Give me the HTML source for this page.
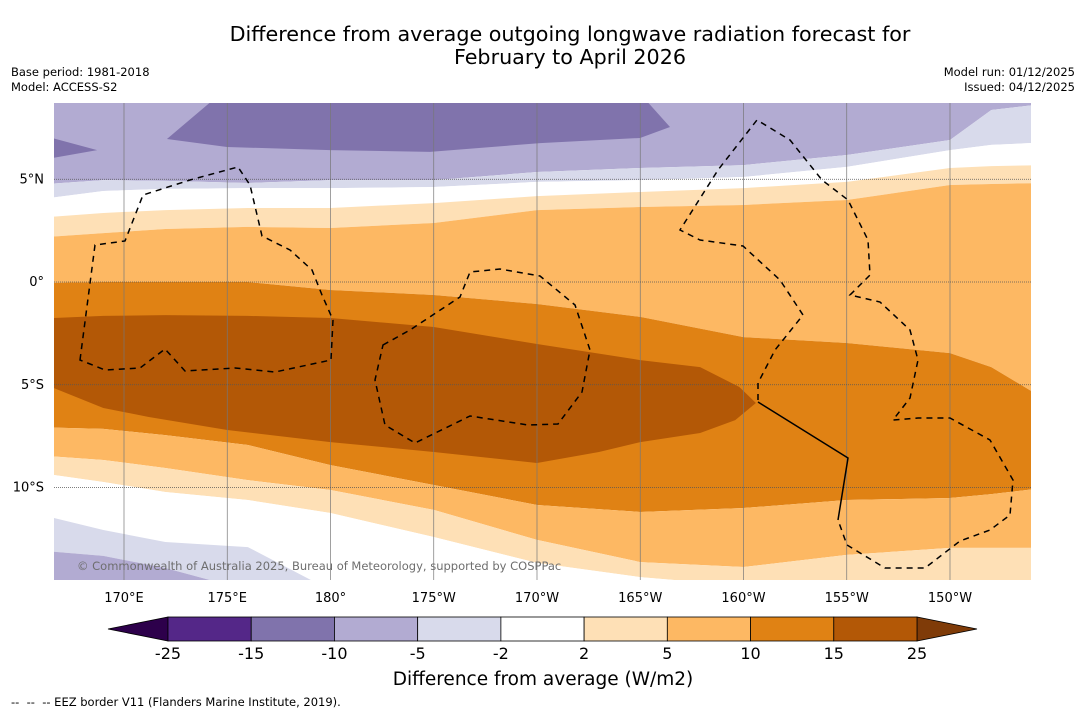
<!DOCTYPE html>
<html><head><meta charset="utf-8">
<style>
body{margin:0;background:#fff;width:1085px;height:713px;overflow:hidden;font-family:"DejaVu Sans","Liberation Sans",sans-serif;}
svg{position:absolute;left:0;top:0;font-family:"DejaVu Sans","Liberation Sans",sans-serif;}
</style></head>
<body>
<svg id="chart" width="1085" height="713" xmlns="http://www.w3.org/2000/svg">
<text x="570" y="41" font-size="20.7" text-anchor="middle" fill="#000">Difference from average outgoing longwave radiation forecast for</text>
<text x="570" y="64" font-size="20.7" text-anchor="middle" fill="#000">February to April 2026</text>
<text x="11" y="76" font-size="11.5">Base period: 1981-2018</text>
<text x="11" y="91" font-size="11.5">Model: ACCESS-S2</text>
<text x="1075" y="76" font-size="11.5" text-anchor="end">Model run: 01/12/2025</text>
<text x="1075" y="91" font-size="11.5" text-anchor="end">Issued: 04/12/2025</text>
<defs><clipPath id="mapclip"><rect x="54" y="103" width="977" height="477"/></clipPath></defs>
<g id="map" clip-path="url(#mapclip)"></g>
<g id="axes"></g>
<g id="cbar"></g>
<text x="543" y="685" font-size="18.5" text-anchor="middle">Difference from average (W/m2)</text>
<text x="11" y="706" font-size="11.5" xml:space="preserve">--  --  -- EEZ border V11 (Flanders Marine Institute, 2019).</text>
</svg>
<script>
// ---- data ----
const lons = [166.6,169,172,176,180,185,190,195,200,205,210,212,213.9];
const latTop = 8.75, latBot = -14.5;
const b2  = [4.72,4.96,4.92,4.82,4.96,4.96,5.35,5.55,5.69,6.18,6.91,8.37,8.71];
const b3  = [3.99,4.43,4.53,4.57,4.57,4.62,4.87,4.96,5.11,5.60,6.42,6.67,6.81];
const b4  = [3.11,3.36,3.50,3.60,3.60,3.84,4.18,4.38,4.57,4.87,5.55,5.64,5.69];
const b5  = [2.14,2.38,2.58,2.68,2.63,2.87,3.50,3.65,3.75,3.99,4.72,4.77,4.82];
const b6  = [-0.05,0,0,0,-0.39,-0.63,-1.07,-1.70,-2.68,-2.97,-3.46,-4.14,-5.89];
const b9  = [-7.06,-7.15,-7.45,-7.93,-8.91,-9.88,-10.85,-11.19,-11.00,-10.61,-10.51,-10.32,-9.98];
const b10 = [-8.42,-8.66,-9.05,-9.64,-10.12,-11.09,-12.55,-13.63,-13.87,-13.28,-12.94,-12.94,-12.94];
const b11 = [-9.25,-9.73,-10.22,-10.61,-11.24,-12.41,-13.67,-14.36,-14.79,-15,-15,-15,-15];
const b12 = [-11.24,-12.07,-12.65,-12.90,-15,-15,-15,-15,-15,-15,-15,-15,-15];
const b13 = [-13.04,-13.33,-13.92,-15,-15,-15,-15,-15,-15,-15,-15,-15,-15];
const coreUpper = [[166.6,-1.75],[169,-1.65],[172,-1.61],[176,-1.65],[180,-1.75],[185,-2.19],[190,-3.02],[195,-3.80],[197.9,-4.14],[199.8,-5.11],[200.6,-5.89]];
const coreLower = [[199.6,-6.72],[197.9,-7.35],[195,-7.79],[193,-8.27],[190,-8.81],[185,-8.27],[180,-7.79],[175,-7.20],[171.2,-6.57],[169,-6.13],[166.6,-5.16]];
const blobTop = [[174.36,8.9],[195.23,8.9],[196.44,7.54],[194.99,7.01],[190.15,6.76],[184.82,6.33],[179.98,6.42],[174.99,6.57],[172.08,6.96]];
const blobLeft = [[166.0,7.15],[168.7,6.42],[166.0,5.94]];
const lonTicks = [170,175,180,185,190,195,200,205,210];
const lonTickLabels = ["170°E","175°E","180°","175°W","170°W","165°W","160°W","155°W","150°W"];
const latTicks = [5,0,-5,-10];
const latTickLabels = ["5°N","0°","5°S","10°S"];
const levelLabels = ["-25","-15","-10","-5","-2","2","5","10","15","25"];
const levelColors = ["#542788","#8073ac","#b2abd2","#d8daeb","#ffffff","#fee0b6","#fdb863","#e08214","#b35806"];
const extLow = "#2d004b", extHigh = "#7f3b08";

// ---- axes functions ----
const xS = lon => 124 + (lon-170)*20.65;
const yS = lat => 282 - lat*20.55;
const NS = "http://www.w3.org/2000/svg";
function mk(tag, attrs, parent){const e=document.createElementNS(NS,tag);for(const k in attrs)e.setAttribute(k,attrs[k]);parent.appendChild(e);return e;}
const map = document.getElementById('map');
function bandPts(upper, lower){
  const p=[];
  lons.forEach((lo,i)=>p.push(xS(lo-(i==0?1:0)-(i==lons.length-1?-1:0))+','+yS(upper[i])));
  for(let i=lons.length-1;i>=0;i--)p.push(xS(lons[i]-(i==0?1:0)-(i==lons.length-1?-1:0))+','+yS(lower[i]));
  return p.join(' ');
}
const topArr = lons.map(()=>latTop+1), botArr = lons.map(()=>latBot-1);
const bands = [
  [topArr,b2,"#b2abd2","band-minus10-minus5-north"],
  [b2,b3,"#d8daeb","band-minus5-minus2-north"],
  [b3,b4,"#ffffff","band-neutral-north"],
  [b4,b5,"#fee0b6","band-2-5-north"],
  [b5,b6,"#fdb863","band-5-10-north"],
  [b6,b9,"#e08214","band-10-15"],
  [b9,b10,"#fdb863","band-5-10-south"],
  [b10,b11,"#fee0b6","band-2-5-south"],
  [b11,b12,"#ffffff","band-neutral-south"],
  [b12,b13,"#d8daeb","band-minus5-minus2-south"],
  [b13,botArr,"#b2abd2","band-minus10-minus5-south"]
];
bands.forEach(b=>{
  const el = mk('polygon',{points:bandPts(b[0],b[1]),fill:b[2]},map);
  
  
});
function polyPts(arr){return arr.map(p=>xS(p[0])+','+yS(p[1])).join(' ');}
const core = mk('polygon',{points:polyPts(coreUpper.concat(coreLower)),fill:"#b35806"},map);


const blob = mk('polygon',{points:polyPts(blobTop),fill:"#8073ac"},map);


const blob2 = mk('polygon',{points:polyPts(blobLeft),fill:"#8073ac"},map);



lonTicks.forEach((lo,i)=>{
  const g = mk('line',{x1:xS(lo),x2:xS(lo),y1:103,y2:580,stroke:"#777","stroke-width":0.7},map);
  
  
});
latTicks.forEach(la=>{
  const g = mk('line',{x1:54,x2:1031,y1:yS(la),y2:yS(la),stroke:"#555","stroke-width":0.7,"stroke-dasharray":"1,1"},map);
  
  
});
const eez = [
 "M80,360 L95,245 L125,241 L143,195 L190,180 L238,167 L250,185 L262,236 L290,250 L312,270 L322,295 L333,320 L331,360 L275,372 L235,368 L185,371 L165,349 L140,368 L105,370 Z",
 "M383,345 L410,330 L460,297 L470,272 L500,269 L540,276 L575,305 L590,350 L582,392 L558,424 L528,425 L470,416 L415,443 L385,425 L375,380 Z",
 "M758,400 L758,383 L775,350 L803,315 L780,280 L743,246 L700,240 L680,230 L718,170 L757,120 L790,140 L822,180 L848,200 L868,240 L870,275 L850,295 L880,302 L910,330 L918,360 L910,398 L893,420 L918,418 L950,418 L990,440 L1013,480 L1010,515 L990,530 L960,541 L925,568 L885,568 L847,545 L838,520",
];
eez.forEach(d=>{
  const p = mk('path',{d:d,fill:"none",stroke:"#000","stroke-width":1.5,"stroke-dasharray":"6,5"},map);
  
  
});
const solid = mk('path',{d:"M758,402 L848,458 L838,520",fill:"none",stroke:"#000","stroke-width":1.5},map);


const copy = mk('text',{x:77,y:570,"font-size":11.5,fill:"#6e6e6e"},map);
copy.textContent = "© Commonwealth of Australia 2025, Bureau of Meteorology, supported by COSPPac";



const axes = document.getElementById('axes');
lonTicks.forEach((lo,i)=>{
  const t = mk('text',{x:xS(lo),y:602,"font-size":13,"text-anchor":"middle"},axes);
  t.textContent = lonTickLabels[i];
  
  
});
latTicks.forEach((la,i)=>{
  const t = mk('text',{x:44,y:yS(la)+4,"font-size":13,"text-anchor":"end"},axes);
  t.textContent = latTickLabels[i];
  
  
});

const cb = document.getElementById('cbar');
const cx0 = 168, cw = (917-168)/levelColors.length, cy = 617, ch = 24;
const lt = mk('polygon',{points:`108,${cy+ch/2} ${cx0},${cy} ${cx0},${cy+ch}`,fill:extLow,stroke:"#000","stroke-width":0.8},cb);


const rt = mk('polygon',{points:`977,${cy+ch/2} 917,${cy} 917,${cy+ch}`,fill:extHigh,stroke:"#000","stroke-width":0.8},cb);


levelColors.forEach((c,i)=>{
  const r = mk('rect',{x:cx0+i*cw,y:cy,width:cw,height:ch,fill:c,stroke:"#000","stroke-width":0.8},cb);
  
  
});
levelLabels.forEach((l,i)=>{
  const t = mk('text',{x:cx0+i*cw,y:659,"font-size":16,"text-anchor":"middle"},cb);
  t.textContent = l;
  
  
});
</script>
</body></html>
